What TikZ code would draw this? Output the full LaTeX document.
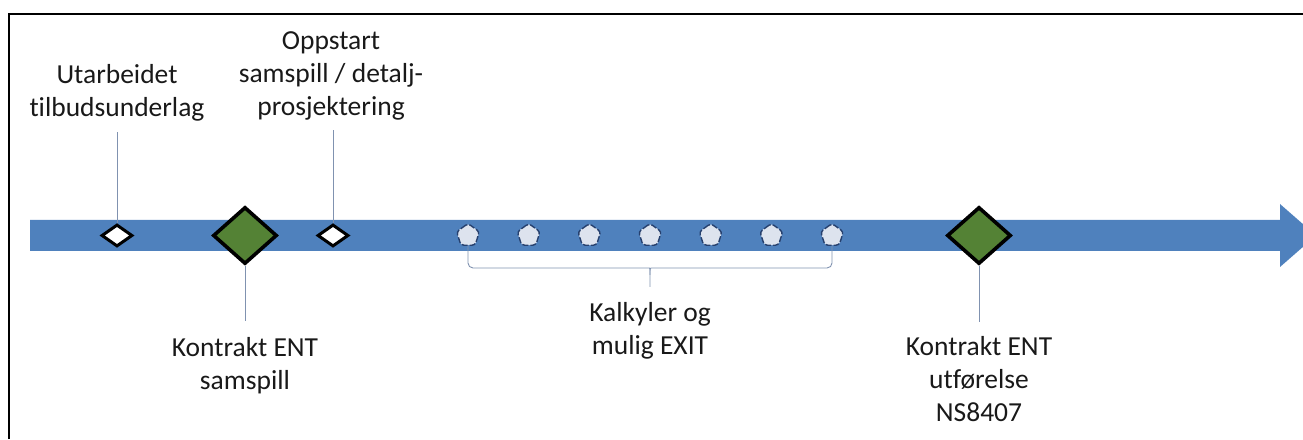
\documentclass[tikz,border=0pt]{standalone}
\usepackage{fontspec}
\setmainfont{Carlito}[Ligatures={NoCommon}]
\usepackage{xcolor}
\usepackage{tikz}
\usetikzlibrary{shapes.geometric,positioning}
\definecolor{barblue}{RGB}{79,129,189}
\definecolor{milegreen}{RGB}{84,130,53}
\definecolor{leadgray}{RGB}{128,146,176}
\definecolor{markfill}{RGB}{221,227,238}
\definecolor{markedge}{RGB}{38,64,110}

\begin{document}
\begin{tikzpicture}[x=1pt,y=1pt,node distance=60.67pt,on grid,
    label/.style={align=center,inner sep=0pt,font=\fontsize{27.5}{33}\selectfont,text=black!90},
    smalld/.style={diamond,draw=black,line width=3pt,fill=white,inner sep=0pt,minimum width=31pt,minimum height=22pt},
    bigd/.style={diamond,draw=black,line width=3.6pt,fill=milegreen,inner sep=0pt,minimum width=64pt,minimum height=57pt},
    marker/.style={regular polygon,regular polygon sides=5,rounded corners=3pt,draw=markedge,line width=1.4pt,dash pattern=on 6pt off 2pt,fill=markfill,inner sep=0pt,minimum size=24pt},
    lead/.style={draw=leadgray,line width=0.9pt},
    frame/.style={draw=black,line width=1.6pt}]
  \useasboundingbox (0,0) rectangle (1303,439);
  \clip (0,0) rectangle (1303,439);
  \draw[frame] (9,0) |- (1303,425);
  \fill[barblue] (30,188) -- (1280,188) -- (1280,172) -- (1316,203.5) -- (1280,235) -- (1280,219) -- (30,219) -- cycle;

  \node[smalld] (d1) at (117,203.5) {};
  \node[bigd] (d2) at (245,203.5) {};
  \node[smalld] (d3) at (333,203.5) {};
  \node[bigd] (d4) at (979,203.5) {};

  \node[marker] (k1) at (468,203.5) {};
  \node[marker,right=of k1] (k2) {};
  \node[marker,right=of k2] (k3) {};
  \node[marker,right=of k3] (k4) {};
  \node[marker,right=of k4] (k5) {};
  \node[marker,right=of k5] (k6) {};
  \node[marker,right=of k6] (k7) {};
  \coordinate (tip) at (650,152);

  \node[label,anchor=south] (utarb) at (117,318) {Utarbeidet\\tilbudsunderlag};
  \node[label,anchor=south] (oppst) at (331,319) {Oppstart\\samspill / detalj-\\prosjektering};
  \node[label,anchor=north] (ksams) at (245,102) {Kontrakt ENT\\samspill};
  \node[label,anchor=north] (kalk) at (650,137) {Kalkyler og\\mulig EXIT};
  \node[label,anchor=north] (kutf) at (979,103) {Kontrakt ENT\\utførelse\\NS8407};

  \draw[lead,shorten >=11pt] (d1) -- (d1 |- utarb.south);
  \draw[lead,shorten >=10pt] (d3) -- (d3 |- oppst.south);
  \draw[lead,shorten >=16pt] (d2) -- (d2 |- ksams.north);
  \draw[lead,shorten >=14pt] (d4) -- (d4 |- kutf.north);
  \draw[lead,rounded corners=5pt] (k1.south) |- (644,171) .. controls (650,171) .. (650,164) -- (tip);
  \draw[lead,rounded corners=5pt] (k7.south) |- (656,171) .. controls (650,171) .. (650,164);
\end{tikzpicture}
\end{document}
